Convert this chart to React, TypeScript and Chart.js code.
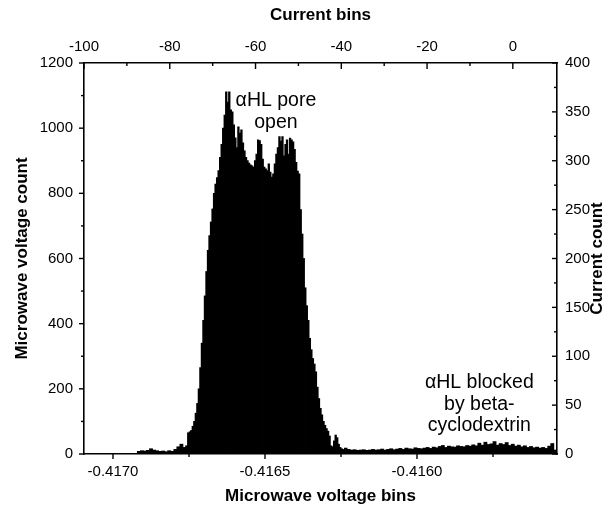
import React, { useEffect, useRef } from "react";
import { Chart, registerables } from "chart.js";

Chart.register(...registerables);

// ---- histogram data (microwave voltage bins, counts) ----
const LEFT_TAIL_START = -0.41692;
const LEFT_TAIL_BIN = 0.00001;
const LEFT_TAIL_COUNTS = [8, 10, 9, 11, 16, 12, 10, 8, 9, 7, 10, 8, 14, 22, 30, 20];

const MAIN_START = -0.41676;
const MAIN_BIN = 0.000005;
const MAIN_COUNTS = [
  25, 65, 68, 72, 85, 100, 125, 155, 200, 265,
  340, 410, 485, 560, 625, 670, 712, 752, 800, 828,
  848, 870, 910, 950, 1000, 1040, 1111, 1080, 1111, 1056,
  1050, 1010, 970, 940, 1004, 985, 995, 955, 930, 910,
  900, 893, 887, 884, 880, 900, 920, 964, 962, 950,
  905, 880, 875, 870, 890, 865, 850, 860, 890, 920,
  940, 974, 960, 974, 915, 950, 964, 920, 969, 964,
  958, 935, 895, 868, 860, 750, 675, 600, 510, 455,
  410, 355, 320, 293, 276, 252, 205, 170, 140, 120,
  100, 88, 78, 70, 55, 25, 22, 40, 58, 50,
  30, 20, 16, 14,
];

const RIGHT_TAIL_START = -0.41624;
const RIGHT_TAIL_BIN = 0.00001;
const RIGHT_TAIL_COUNTS = [
  18, 14, 12, 13, 11, 12, 13, 11, 12, 14,
  12, 13, 15, 12, 14, 16, 13, 15, 17, 14,
  18, 16, 15, 19, 17, 16, 18, 20, 17, 21,
  19, 23, 26, 20, 24, 22, 21, 25, 23, 22,
  26, 24, 28, 25, 33, 27, 36, 29, 31, 38,
  27, 32, 29, 35, 26, 30, 24, 27, 22, 25,
  20, 23, 19, 21, 18, 20, 17, 24, 32, 12,
];

// ---- axes ----
const X_MIN = -0.4170954;
const X_MAX = -0.4155395;
const X2_MIN = -100;
const X2_MAX = 10.3;
const Y_MAX = 1200;
const Y2_MAX = 400;

const BOTTOM_TICKS = [-0.417, -0.4165, -0.416];
const BOTTOM_MINOR = [-0.41675, -0.41625, -0.41575];
const TOP_TICKS = [-100, -80, -60, -40, -20, 0];
const TOP_MINOR = [-90, -70, -50, -30, -10];
const LEFT_TICKS = [0, 200, 400, 600, 800, 1000, 1200];
const LEFT_MINOR = [100, 300, 500, 700, 900, 1100];
const RIGHT_TICKS = [0, 50, 100, 150, 200, 250, 300, 350, 400];
const RIGHT_MINOR = [25, 75, 125, 175, 225, 275, 325, 375];

const TITLE_BOTTOM = "Microwave voltage bins";
const TITLE_TOP = "Current bins";
const TITLE_LEFT = "Microwave voltage count";
const TITLE_RIGHT = "Current count";

const ANNOTATIONS = [
  { lines: ["\u03b1HL pore", "open"], x: -0.416464, y: 1083 },
  { lines: ["\u03b1HL blocked", "by beta-", "cyclodextrin"], x: -0.415795, y: 218 },
];

const FONT = "'Liberation Sans', Arial, Helvetica, sans-serif";

function binsToPoints(start: number, width: number, counts: number[]) {
  return counts.map((c, i) => ({ x: start + (i + 0.5) * width, y: c }));
}

export default function App() {
  const ref = useRef<HTMLCanvasElement | null>(null);

  useEffect(() => {
    if (!ref.current) return;
    const points = [
      ...binsToPoints(LEFT_TAIL_START, LEFT_TAIL_BIN, LEFT_TAIL_COUNTS),
      ...binsToPoints(MAIN_START, MAIN_BIN, MAIN_COUNTS),
      ...binsToPoints(RIGHT_TAIL_START, RIGHT_TAIL_BIN, RIGHT_TAIL_COUNTS),
    ];

    const extras = {
      id: "extras",
      afterDatasetsDraw(chart: any) {
        const ctx = chart.ctx;
        const xs = chart.scales.x;
        const ys = chart.scales.y;
        ctx.save();
        ctx.fillStyle = "#000";
        ctx.font = `19.5px ${FONT}`;
        ctx.textAlign = "center";
        ctx.textBaseline = "middle";
        for (const a of ANNOTATIONS) {
          const px = xs.getPixelForValue(a.x);
          const py = ys.getPixelForValue(a.y);
          a.lines.forEach((t, i) => ctx.fillText(t, px, py + i * 21.5));
        }
        ctx.restore();
      },
      afterDraw(chart: any) {
        const ctx = chart.ctx;
        const { left, right, top, bottom } = chart.chartArea;
        const sx = chart.scales.x;
        const sx2 = chart.scales.x2;
        const sy = chart.scales.y;
        const sy2 = chart.scales.y2;
        ctx.save();
        ctx.strokeStyle = "#000";
        ctx.lineWidth = 1.4;
        const MAJ = 5;
        const MIN = 3;
        const vline = (x: number, y0: number, y1: number) => {
          ctx.beginPath();
          ctx.moveTo(x, y0);
          ctx.lineTo(x, y1);
          ctx.stroke();
        };
        const hline = (y: number, x0: number, x1: number) => {
          ctx.beginPath();
          ctx.moveTo(x0, y);
          ctx.lineTo(x1, y);
          ctx.stroke();
        };
        BOTTOM_TICKS.forEach((v) => vline(sx.getPixelForValue(v), bottom, bottom + MAJ));
        BOTTOM_MINOR.forEach((v) => vline(sx.getPixelForValue(v), bottom, bottom + MIN));
        TOP_TICKS.forEach((v) => vline(sx2.getPixelForValue(v), top, top + MAJ + 1));
        TOP_MINOR.forEach((v) => vline(sx2.getPixelForValue(v), top, top + MIN));
        LEFT_TICKS.forEach((v) => hline(sy.getPixelForValue(v), left - MAJ, left));
        LEFT_MINOR.forEach((v) => hline(sy.getPixelForValue(v), left - MIN, left));
        RIGHT_TICKS.forEach((v) => hline(sy2.getPixelForValue(v), right - MAJ, right));
        RIGHT_MINOR.forEach((v) => hline(sy2.getPixelForValue(v), right - MIN, right));

        // right axis title (reads bottom-to-top)
        ctx.fillStyle = "#000";
        ctx.font = `bold 17px ${FONT}`;
        ctx.textAlign = "center";
        ctx.textBaseline = "middle";
        ctx.translate(597, (top + bottom) / 2);
        ctx.rotate(-Math.PI / 2);
        ctx.fillText(TITLE_RIGHT, 0, 0);
        ctx.restore();
      },
    };

    const tickFont = { family: FONT, size: 15 };
    const titleFont = { family: FONT, size: 17, weight: "bold" as const };
    const border = { display: true, color: "#000", width: 1.6 };
    const grid = { display: false, drawTicks: false };

    const chart = new Chart(ref.current, {
      type: "bar",
      data: {
        datasets: [
          {
            data: points,
            xAxisID: "x",
            yAxisID: "y",
            backgroundColor: "#000",
            borderWidth: 0,
            barThickness: "flex",
            barPercentage: 1,
            categoryPercentage: 1,
            inflateAmount: 0.4,
          } as any,
        ],
      },
      options: {
        animation: false,
        responsive: false,
        devicePixelRatio: 1,
        layout: { padding: 0 },
        plugins: { legend: { display: false }, tooltip: { enabled: false } },
        scales: {
          x: {
            type: "linear",
            position: "bottom",
            min: X_MIN,
            max: X_MAX,
            offset: false,
            grid: { ...grid, offset: false },
            border,
            ticks: {
              color: "#000",
              font: tickFont,
              padding: 9,
              maxRotation: 0,
              autoSkip: false,
              callback: (v: any) => Number(v).toFixed(4),
            },
            afterBuildTicks: (s: any) => {
              s.ticks = BOTTOM_TICKS.map((value) => ({ value }));
            },
            afterFit: (s: any) => {
              s.height = 57;
            },
            title: {
              display: true,
              text: TITLE_BOTTOM,
              color: "#000",
              font: titleFont,
              padding: { top: 0, bottom: 4.8 },
            },
          },
          x2: {
            type: "linear",
            position: "top",
            min: X2_MIN,
            max: X2_MAX,
            offset: false,
            grid,
            border,
            ticks: {
              color: "#000",
              font: tickFont,
              padding: 7,
              maxRotation: 0,
              autoSkip: false,
              callback: (v: any) => String(v),
            },
            afterBuildTicks: (s: any) => {
              s.ticks = TOP_TICKS.map((value) => ({ value }));
            },
            afterFit: (s: any) => {
              s.height = 63;
            },
            title: {
              display: true,
              text: TITLE_TOP,
              color: "#000",
              font: titleFont,
              padding: { top: 4.8, bottom: 0 },
            },
          },
          y: {
            type: "linear",
            position: "left",
            min: 0,
            max: Y_MAX,
            grid,
            border,
            ticks: {
              color: "#000",
              font: tickFont,
              padding: 11,
              autoSkip: false,
              callback: (v: any) => String(v),
            },
            afterBuildTicks: (s: any) => {
              s.ticks = LEFT_TICKS.map((value) => ({ value }));
            },
            afterFit: (s: any) => {
              s.width = 84;
            },
            title: {
              display: true,
              text: TITLE_LEFT,
              color: "#000",
              font: titleFont,
              padding: { top: 11.8, bottom: 0 },
            },
          },
          y2: {
            type: "linear",
            position: "right",
            min: 0,
            max: Y2_MAX,
            grid,
            border,
            ticks: {
              color: "#000",
              font: tickFont,
              padding: 8,
              autoSkip: false,
              callback: (v: any) => String(v),
            },
            afterBuildTicks: (s: any) => {
              s.ticks = RIGHT_TICKS.map((value) => ({ value }));
            },
            afterFit: (s: any) => {
              s.width = 56;
            },
          },
        },
      } as any,
      plugins: [extras],
    });
    return () => chart.destroy();
  }, []);

  return (
    <div style={{ position: "fixed", left: 0, top: 0, width: 613, height: 511, background: "#fff" }}>
      <canvas ref={ref} width={613} height={511} style={{ display: "block", width: 613, height: 511 }} />
    </div>
  );
}
